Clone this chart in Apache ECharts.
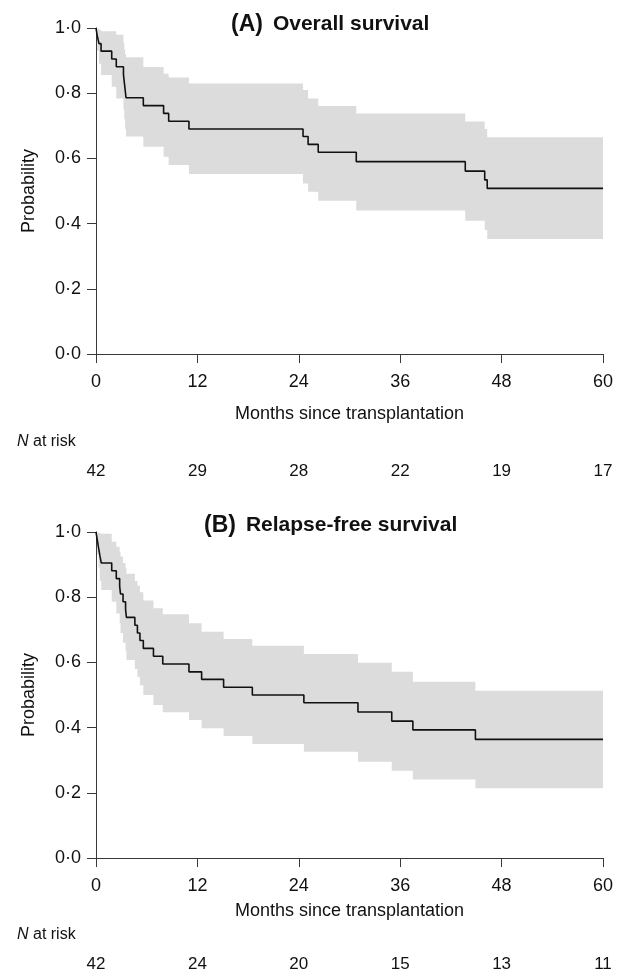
<!DOCTYPE html>
<html><head><meta charset="utf-8">
<script src="https://cdn.jsdelivr.net/npm/echarts@6/dist/echarts.min.js"></script>
<style>html,body{margin:0;padding:0;background:#fff}#c{width:621px;height:974px}</style>
</head><body><div id="c"></div>
<script>
// ---- data ----
const xTicks = [0, 12, 24, 36, 48, 60];
const atRiskA = [42, 29, 28, 22, 19, 17];
const atRiskB = [42, 24, 20, 15, 13, 11];

// Panel A: overall survival (event times in months, KM estimate after event, CI band after event)
const timesA = [0.15, 0.35, 0.6, 1.86, 2.4, 3.25, 3.35, 3.45, 3.55, 5.6, 8.0, 8.6, 11.0, 24.5, 25.1, 26.3, 30.8, 43.7, 46.0, 46.3];
const survA  = [0.976, 0.952, 0.929, 0.905, 0.881, 0.857, 0.833, 0.810, 0.786, 0.762, 0.738, 0.714, 0.690, 0.667, 0.643, 0.619, 0.590, 0.561, 0.534, 0.508];
const upperA = [0.998, 0.995, 0.990, 0.990, 0.979, 0.955, 0.935, 0.920, 0.910, 0.880, 0.860, 0.848, 0.830, 0.810, 0.784, 0.761, 0.738, 0.713, 0.690, 0.665];
const lowerA = [0.930, 0.890, 0.856, 0.820, 0.784, 0.750, 0.720, 0.690, 0.667, 0.636, 0.605, 0.580, 0.552, 0.523, 0.498, 0.470, 0.440, 0.409, 0.380, 0.353];

// Panel B: relapse-free survival
const timesB = [0.15, 0.3, 0.45, 0.62, 1.86, 2.4, 2.8, 2.9, 3.2, 3.5, 3.6, 4.6, 4.9, 5.2, 5.6, 6.8, 7.9, 11.0, 12.5, 15.1, 18.5, 24.6, 31.0, 35.0, 37.5, 44.9];
const survB  = [0.976, 0.952, 0.929, 0.905, 0.881, 0.857, 0.833, 0.810, 0.786, 0.762, 0.738, 0.714, 0.690, 0.667, 0.643, 0.619, 0.595, 0.571, 0.548, 0.524, 0.500, 0.476, 0.448, 0.420, 0.393, 0.364];
const upperB = [0.998, 0.997, 0.996, 0.995, 0.970, 0.955, 0.940, 0.925, 0.905, 0.890, 0.872, 0.850, 0.835, 0.815, 0.790, 0.766, 0.748, 0.720, 0.694, 0.672, 0.651, 0.626, 0.599, 0.571, 0.541, 0.513];
const lowerB = [0.930, 0.890, 0.850, 0.822, 0.786, 0.750, 0.720, 0.690, 0.660, 0.635, 0.607, 0.580, 0.555, 0.530, 0.500, 0.469, 0.447, 0.423, 0.398, 0.374, 0.350, 0.326, 0.295, 0.268, 0.241, 0.214];

const X_MAX = 60;
const FONT = "'Liberation Sans', Arial, Helvetica, sans-serif";

function lineData(times, surv) {
  const d = [[0, 1]];
  times.forEach((t, i) => d.push([t, surv[i]]));
  d.push([X_MAX, surv[surv.length - 1]]);
  return d;
}
function bandRows(times, lo, hi) {
  return times.map((t, i) => [t, i + 1 < times.length ? times[i + 1] : X_MAX, lo[i], hi[i]]);
}
function bandSeries(gridIdx, rows) {
  return {
    type: 'custom', xAxisIndex: gridIdx * 2, yAxisIndex: gridIdx, z: 1, silent: true,
    data: [[0]],
    renderItem: function (params, api) {
      const pts = [];
      rows.forEach(r => { pts.push(api.coord([r[0], r[3]])); pts.push(api.coord([r[1], r[3]])); });
      for (let i = rows.length - 1; i >= 0; i--) {
        const r = rows[i];
        pts.push(api.coord([r[1], r[2]])); pts.push(api.coord([r[0], r[2]]));
      }
      return { type: 'polygon', shape: { points: pts }, style: { fill: '#dcdcdc', stroke: null } };
    }
  };
}
const axisColor = '#3a3a3a';
function xMain(gridIdx, gap) {
  return {
    gridIndex: gridIdx, type: 'value', min: 0, max: X_MAX, interval: 12,
    axisLine: { onZero: false, lineStyle: { color: axisColor, width: 1 } },
    axisTick: { length: 9, lineStyle: { color: axisColor, width: 1 } },
    axisLabel: { fontSize: 18, color: '#111', margin: 19, fontFamily: FONT },
    splitLine: { show: false },
    name: 'Months since transplantation', nameLocation: 'middle', nameGap: gap,
    nameTextStyle: { fontSize: 18, color: '#111', fontFamily: FONT }
  };
}
function xRisk(gridIdx, arr, off) {
  return {
    gridIndex: gridIdx, type: 'value', min: 0, max: X_MAX, interval: 12, position: 'bottom', offset: off,
    axisLine: { show: false }, axisTick: { show: false }, splitLine: { show: false },
    axisLabel: { fontSize: 17, color: '#111', margin: 0, fontFamily: FONT,
      formatter: v => { const k = xTicks.indexOf(v); return k >= 0 ? String(arr[k]) : ''; } }
  };
}
function yMain(gridIdx) {
  return {
    gridIndex: gridIdx, type: 'value', min: 0, max: 1, interval: 0.2,
    axisLine: { show: true, lineStyle: { color: axisColor, width: 1 } },
    axisTick: { show: true, length: 9, lineStyle: { color: axisColor, width: 1 } },
    axisLabel: { fontSize: 18, color: '#111', margin: 15, fontFamily: FONT,
      formatter: v => v.toFixed(1).replace('.', '\u00b7') },
    splitLine: { show: false },
    name: 'Probability', nameLocation: 'middle', nameGap: 58,
    nameTextStyle: { fontSize: 18, color: '#111', fontFamily: FONT }
  };
}
function kmLine(gridIdx, data) {
  return {
    type: 'line', xAxisIndex: gridIdx * 2, yAxisIndex: gridIdx, z: 3, step: 'end',
    data: data, symbol: 'none', silent: true,
    lineStyle: { color: '#111', width: 1.6 }
  };
}
const titleRich = {
  a: { fontSize: 23, fontWeight: 'bold', color: '#111', fontFamily: FONT },
  b: { fontSize: 21, fontWeight: 'bold', color: '#111', fontFamily: FONT }
};
const riskRich = { i: { fontStyle: 'italic', fontSize: 16, fill: '#111', fontFamily: FONT } };

const chart = echarts.init(document.getElementById('c'), null, { renderer: 'canvas' });
chart.setOption({
  animation: false,
  backgroundColor: '#fff',
  textStyle: { fontFamily: FONT },
  title: [
    { text: '{a|(A)}  {b|Overall survival}', left: 226, top: 8, textStyle: { rich: titleRich } },
    { text: '{a|(B)}  {b|Relapse-free survival}', left: 199, top: 509, textStyle: { rich: titleRich } }
  ],
  grid: [
    { left: 96, top: 28, width: 507, height: 326 },
    { left: 96, top: 532, width: 507, height: 326 }
  ],
  xAxis: [xMain(0, 51), xRisk(0, atRiskA, 109), xMain(1, 44), xRisk(1, atRiskB, 98)],
  yAxis: [yMain(0), yMain(1)],
  graphic: [
    { type: 'text', left: 17, top: 434, style: { text: '{i|N} at risk', rich: riskRich, fontSize: 16, fill: '#111', fontFamily: FONT } },
    { type: 'text', left: 17, top: 927, style: { text: '{i|N} at risk', rich: riskRich, fontSize: 16, fill: '#111', fontFamily: FONT } }
  ],
  series: [
    bandSeries(0, bandRows(timesA, lowerA, upperA)),
    kmLine(0, lineData(timesA, survA)),
    bandSeries(1, bandRows(timesB, lowerB, upperB)),
    kmLine(1, lineData(timesB, survB))
  ]
});
</script></body></html>
